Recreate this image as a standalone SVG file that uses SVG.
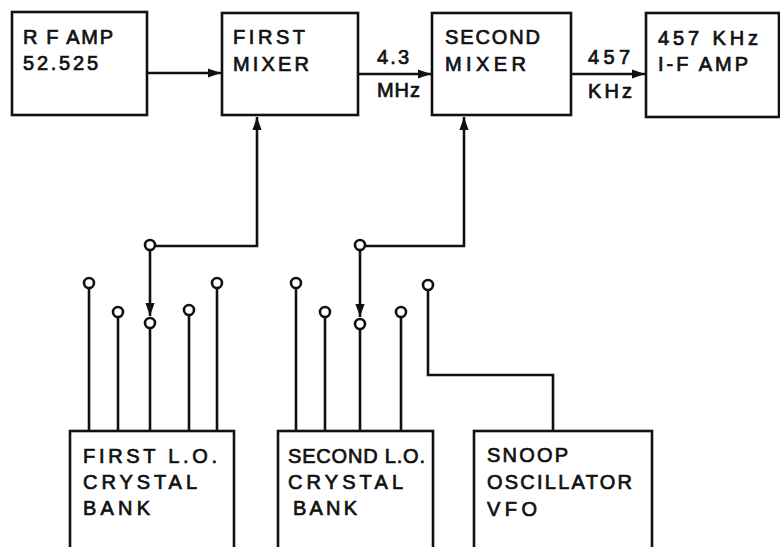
<svg xmlns="http://www.w3.org/2000/svg" width="780" height="547" viewBox="0 0 780 547">
<style>
.box{fill:#fff;stroke:#111;stroke-width:2.6}
.ln{fill:none;stroke:#111;stroke-width:2.6;stroke-linejoin:miter}
.ct{fill:#fff;stroke:#111;stroke-width:2.6}
text{font-family:"Liberation Sans","DejaVu Sans",sans-serif;font-size:20px;fill:#111;stroke:#111;stroke-width:0.7}
</style>
<defs>
<marker id="ah" viewBox="0 0 10 10" refX="10" refY="5" markerWidth="5" markerHeight="5" orient="auto" markerUnits="strokeWidth">
<path d="M0,1.5 L10,5 L0,8.5 Z" fill="#111"/>
</marker>
</defs>
<rect width="780" height="547" fill="#fff"/>
<g id="connectors">
<line class="ln" x1="147" y1="73" x2="221" y2="73" marker-end="url(#ah)"/>
<line class="ln" x1="358" y1="74" x2="431" y2="74" marker-end="url(#ah)"/>
<line class="ln" x1="571" y1="74" x2="645" y2="74" marker-end="url(#ah)"/>
<polyline class="ln" points="155,246 257,246 257,117" marker-end="url(#ah)"/>
<polyline class="ln" points="365,246 464,246 464,117" marker-end="url(#ah)"/>
<line class="ln" x1="150" y1="251" x2="150" y2="316" marker-end="url(#ah)"/>
<line class="ln" x1="360" y1="251" x2="360" y2="317" marker-end="url(#ah)"/>
<line class="ln" x1="89" y1="288" x2="89" y2="431"/>
<line class="ln" x1="118" y1="317" x2="118" y2="431"/>
<line class="ln" x1="150" y1="328" x2="150" y2="431"/>
<line class="ln" x1="189" y1="315" x2="189" y2="431"/>
<line class="ln" x1="217" y1="288" x2="217" y2="431"/>
<line class="ln" x1="296" y1="288" x2="296" y2="431"/>
<line class="ln" x1="325" y1="317" x2="325" y2="431"/>
<line class="ln" x1="360" y1="329" x2="360" y2="431"/>
<line class="ln" x1="401" y1="317" x2="401" y2="431"/>
<polyline class="ln" points="428,290 428,375 553,375 553,431"/>
</g>
<g id="contacts">
<circle class="ct" cx="150" cy="245" r="5"/>
<circle class="ct" cx="360" cy="245" r="5"/>
<circle class="ct" cx="89" cy="283" r="5"/>
<circle class="ct" cx="118" cy="312" r="5"/>
<circle class="ct" cx="150" cy="323" r="5"/>
<circle class="ct" cx="189" cy="310" r="5"/>
<circle class="ct" cx="217" cy="283" r="5"/>
<circle class="ct" cx="296" cy="283" r="5"/>
<circle class="ct" cx="325" cy="312" r="5"/>
<circle class="ct" cx="360" cy="324" r="5"/>
<circle class="ct" cx="401" cy="312" r="5"/>
<circle class="ct" cx="428" cy="285" r="5"/>
</g>
<g id="labels">
<text x="377" y="64" textLength="32" lengthAdjust="spacing">4.3</text>
<text x="377" y="97" textLength="43" lengthAdjust="spacing">MHz</text>
<text x="588" y="64" textLength="42" lengthAdjust="spacing">457</text>
<text x="588" y="98" textLength="44" lengthAdjust="spacing">KHz</text>
</g>
<g id="rf-amp">
<rect class="box" x="12" y="12" width="135" height="103"/>
<text x="23" y="44" textLength="90" lengthAdjust="spacing">R F AMP</text>
<text x="23" y="70" textLength="75" lengthAdjust="spacing">52.525</text>
</g>
<g id="first-mixer">
<rect class="box" x="222" y="13" width="136" height="102"/>
<text x="233" y="44" textLength="72" lengthAdjust="spacing">FIRST</text>
<text x="233" y="71" textLength="76" lengthAdjust="spacing">MIXER</text>
</g>
<g id="second-mixer">
<rect class="box" x="432" y="13" width="139" height="102"/>
<text x="445" y="44" textLength="95" lengthAdjust="spacing">SECOND</text>
<text x="445" y="71" textLength="81" lengthAdjust="spacing">MIXER</text>
</g>
<g id="if-amp">
<rect class="box" x="646" y="13" width="133" height="104"/>
<text x="658" y="45" textLength="100" lengthAdjust="spacing">457 KHz</text>
<text x="658" y="71" textLength="90" lengthAdjust="spacing">I-F AMP</text>
</g>
<g id="first-lo-bank">
<rect class="box" x="70" y="431" width="164" height="130"/>
<text x="83" y="463" textLength="134" lengthAdjust="spacing">FIRST  L.O.</text>
<text x="83" y="489" textLength="114" lengthAdjust="spacing">CRYSTAL</text>
<text x="83" y="515" textLength="67" lengthAdjust="spacing">BANK</text>
</g>
<g id="second-lo-bank">
<rect class="box" x="278" y="431" width="155" height="130"/>
<text x="288" y="463" textLength="137" lengthAdjust="spacing">SECOND L.O.</text>
<text x="288" y="489" textLength="115" lengthAdjust="spacing">CRYSTAL</text>
<text x="293" y="515" textLength="64" lengthAdjust="spacing">BANK</text>
</g>
<g id="snoop-vfo">
<rect class="box" x="474" y="431" width="178" height="130"/>
<text x="487" y="462" textLength="81" lengthAdjust="spacing">SNOOP</text>
<text x="487" y="489" textLength="145" lengthAdjust="spacing">OSCILLATOR</text>
<text x="487" y="516" textLength="50" lengthAdjust="spacing">VFO</text>
</g>
</svg>
